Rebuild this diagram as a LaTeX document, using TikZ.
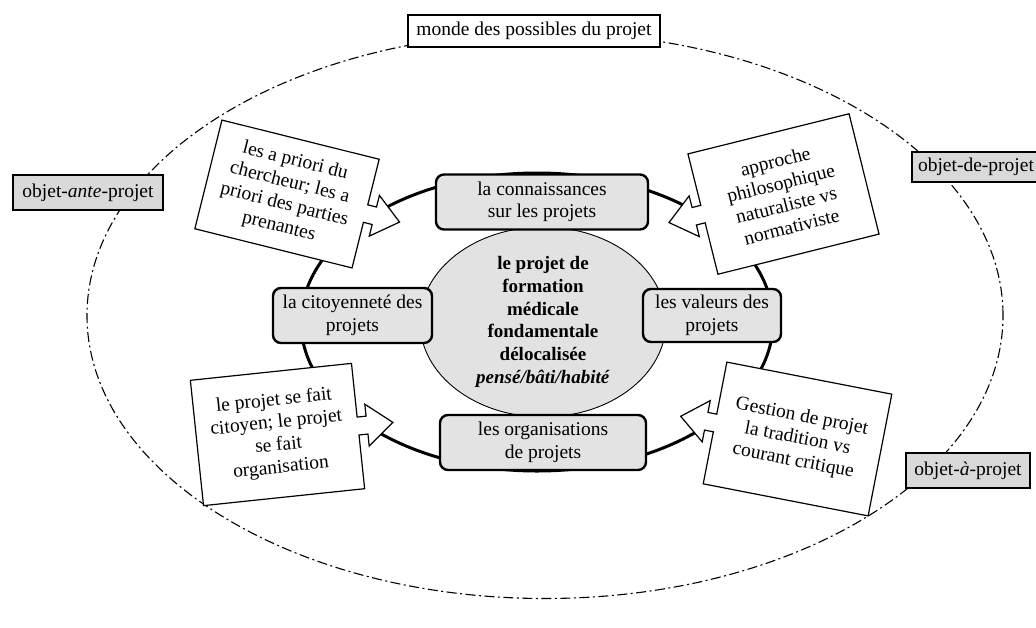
\documentclass[tikz,border=0pt]{standalone}
\usepackage{fontspec}
\setmainfont{Liberation Serif}[Ligatures=TeX]
\usetikzlibrary{shapes.geometric}

\definecolor{boxgrey}{HTML}{E3E3E3}
\definecolor{labelgrey}{HTML}{D9D9D9}
\definecolor{coregrey}{HTML}{E2E2E2}

\tikzset{
  txt/.style={font=\rmfamily\fontsize{19.5}{22.5}\selectfont, align=center},
  worldline/.style={line width=1.1pt, dash pattern=on 10pt off 3.5pt on 2pt off 3.5pt},
  ring/.style={line width=3pt},
  core/.style={txt, ellipse, draw, line width=0.9pt, fill=coregrey, inner sep=0pt,
               minimum width=246pt, minimum height=190pt, font=\rmfamily\fontsize{19}{22.8}\selectfont\bfseries},
  theme/.style={txt, draw, line width=2.4pt, rounded corners=8pt, fill=boxgrey, inner sep=2pt},
  tag/.style={txt, draw, line width=1.8pt, fill=labelgrey, inner sep=4pt, minimum height=33pt},
  worldtag/.style={txt, draw, line width=1.8pt, fill=white, inner sep=4pt, minimum height=32pt},
  calloutline/.style={draw, line width=1.2pt, fill=white, line join=miter},
  callouttext/.style={txt, inner sep=0pt},
}

% #1 name, #2 centre, #3 angle, #4 half width, #5 half height,
% #6 side of the arrow (1 = right, -1 = left), #7 text
\newcommand{\calloutbox}[7]{%
  \coordinate (#1) at (#2);
  \begin{scope}[shift={(#1)}, rotate=#3, xscale=#6]
    \draw[calloutline] (-#4,-#5) -- (#4,-#5) -- (#4,-9) -- ({#4+9},-9) -- ({#4+9},-21)
      -- ({#4+35},0) -- ({#4+9},21) -- ({#4+9},9) -- (#4,9) -- (#4,#5) -- (-#4,#5) -- cycle;
  \end{scope}
  \node[callouttext, rotate=#3] (#1-text) at (#1) {#7};
}

\begin{document}
\begin{tikzpicture}[x=1pt, y=-1pt]
\useasboundingbox (0,0) rectangle (1036,627);

% world of the project's possibilities
\coordinate (world) at (545,315.5);
\draw[worldline] (world) ellipse [x radius=458pt, y radius=283pt];

% ring linking the four themes
\coordinate (ringc) at (537,322);
\draw[ring] (ringc) ellipse [x radius=236pt, y radius=149pt];

% core of the project
\node[core] (centre) at (543,322) {le projet de\\formation\\médicale\\fondamentale\\délocalisée\\\textit{pensé/bâti/habité}};

% callouts pointing at the ring
\calloutbox{cTL}{287,194}{-14}{81}{56}{1}{les a priori du\\chercheur; les a\\priori des parties\\prenantes}
\calloutbox{cTR}{783.5,194}{14}{83}{62}{-1}{approche\\philosophique\\naturaliste vs\\normativiste}
\calloutbox{cBL}{277.5,434.5}{6}{81}{63}{1}{le projet se fait\\citoyen; le projet\\se fait\\organisation}
\calloutbox{cBR}{797.5,439}{-11}{84}{62}{-1}{Gestion de projet\\la tradition vs\\courant critique}

% the four themes on the ring
\node[theme, minimum width=212pt, minimum height=55pt] (conn) at (542,202) {la connaissances\\sur les projets};
\node[theme, minimum width=159pt, minimum height=55pt] (cit) at (352.5,315.5) {la citoyenneté des\\projets};
\node[theme, minimum width=138pt, minimum height=53pt] (val) at (712,315.5) {les valeurs des\\projets};
\node[theme, minimum width=206pt, minimum height=55pt] (org) at (543,442.5) {les organisations\\de projets};

% labels on the outer boundary
\node[worldtag, minimum width=252pt] (monde) at (534,31) {monde des possibles du projet};
\node[tag, minimum width=150pt, minimum height=35pt] (ante) at (88,192.5) {objet-\textit{ante}-projet};
\node[tag, minimum width=128pt, minimum height=30pt] (de) at (976,167) {objet-de-projet};
\node[tag, minimum width=124pt, minimum height=35pt] (a) at (968,470.5) {objet-\textit{à}-projet};
\end{tikzpicture}
\end{document}
